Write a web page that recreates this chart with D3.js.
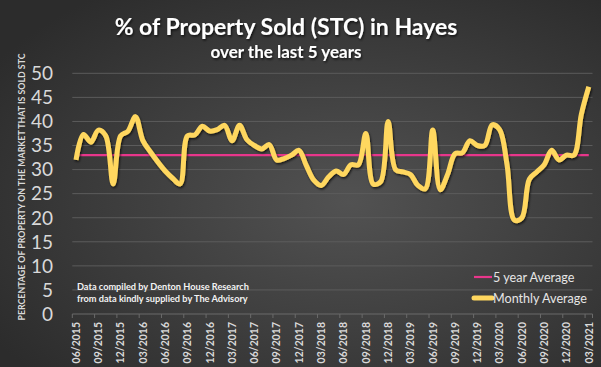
<!DOCTYPE html>
<html>
<head>
<meta charset="utf-8">
<script src="https://cdn.jsdelivr.net/npm/d3@7"></script>
<style>
  html, body { margin: 0; padding: 0; background: #333; }
  svg { display: block; font-family: Lato, "Open Sans", sans-serif; }
</style>
</head>
<body>
<svg width="601" height="367"></svg>
<script>
// monthly % sold STC, 06/2015 .. 03/2021
const monthly = [
  32, 37.3, 35.7, 38.2, 37, 27, 37, 38, 41, 36,
  33.7, 31.6, 29.7, 28.2, 27, 37, 37.2, 39, 38, 38.3,
  39.2, 36, 39.2, 36.2, 35, 34.3, 35.2, 32, 32.3, 33,
  34, 30.8, 27.8, 26.7, 28.5, 29.7, 29, 31, 31, 37.5,
  27, 27.5, 40, 30, 29.5, 29, 26.7, 26, 38.2, 25.8,
  29, 33.3, 33.5, 36, 35, 35, 39.3, 38.3, 31, 19.5,
  20, 28, 29.5, 31, 34, 32, 33, 33, 41.5, 47.2
];
const fiveYearAvg = 33;
const yTicks = [0, 5, 10, 15, 20, 25, 30, 35, 40, 45, 50];

const months = d3.timeMonth.range(new Date(2015, 5, 1), new Date(2021, 3, 1))
  .map(d3.timeFormat('%m/%Y'));

const svg = d3.select('svg');
const width = 601, height = 367;

// background
let defs = svg.append('defs');
let bg = defs.append('radialGradient')
  .attr('id', 'bg').attr('cx', '58%').attr('cy', '55%').attr('r', '70%');
bg.append('stop').attr('offset', '0%').attr('stop-color', '#525252');
bg.append('stop').attr('offset', '100%').attr('stop-color', '#2c2c2c');

let shadow = defs.append('filter').attr('id', 'shadow')
  .attr('x', '-10%').attr('y', '-10%').attr('width', '120%').attr('height', '130%');
shadow.append('feDropShadow').attr('dx', 1).attr('dy', 1.5)
  .attr('stdDeviation', 1.2).attr('flood-color', '#000').attr('flood-opacity', 0.7);

svg.append('rect').attr('width', width).attr('height', height).attr('fill', 'url(#bg)');

let x = d3.scaleBand().domain(months).range([72.3, 592.5]).padding(0);
let y = d3.scaleLinear().domain([0, 50]).range([314, 73.3]);
let cx = d => x(d) + x.bandwidth() / 2;

// gridlines
svg.append('g')
  .selectAll('line')
  .data(yTicks)
  .enter()
    .append('line')
    .attr('x1', 72.3).attr('x2', 592.5)
    .attr('y1', d => y(d)).attr('y2', d => y(d))
    .attr('stroke', d => d === 0 ? '#6a6a6a' : '#5c5c5c')
    .attr('stroke-width', 1);

// y labels
svg.append('g')
  .selectAll('text')
  .data(yTicks)
  .enter()
    .append('text')
    .attr('x', 53).attr('y', d => y(d))
    .attr('dy', '0.36em')
    .attr('text-anchor', 'end')
    .attr('fill', '#d9d9d9')
    .attr('font-size', 19)
    .text(d => d);

// x tick marks every 3 months at category boundaries
let every3 = months.filter((m, i) => i % 3 === 0);
svg.append('g')
  .selectAll('line')
  .data(every3.concat(['end']))
  .enter()
    .append('line')
    .attr('x1', d => d === 'end' ? 592.5 : x(d))
    .attr('x2', d => d === 'end' ? 592.5 : x(d))
    .attr('y1', 314).attr('y2', 318)
    .attr('stroke', '#6a6a6a');

// x labels
svg.append('g')
  .selectAll('text')
  .data(every3)
  .enter()
    .append('text')
    .attr('transform', d => `translate(${cx(d)},322) rotate(-90)`)
    .attr('dy', '0.36em')
    .attr('text-anchor', 'end')
    .attr('fill', '#d9d9d9')
    .attr('font-size', 10.5)
    .attr('font-weight', 'bold')
    .text(d => d);

// y axis title
svg.append('text')
  .attr('transform', 'translate(22,187) rotate(-90)')
  .attr('text-anchor', 'middle')
  .attr('dy', '0.36em')
  .attr('fill', '#d9d9d9')
  .attr('font-size', 8.8)
  .attr('font-weight', 'bold')
  .text('PERCENTAGE OF PROPERTY ON THE MARKET THAT IS SOLD STC');

// 5 year average
let avgLine = d3.line().x(d => cx(d)).y(() => y(fiveYearAvg));
svg.append('path')
  .datum(months)
  .attr('d', avgLine)
  .attr('fill', 'none')
  .attr('stroke', '#e8368b')
  .attr('stroke-width', 2.2);

// monthly line
let line = d3.line()
  .x((d, i) => cx(months[i]))
  .y(d => y(d))
  .curve(d3.curveCatmullRom);

svg.append('path')
  .datum(monthly)
  .attr('d', line)
  .attr('fill', 'none')
  .attr('stroke', '#ffd75f')
  .attr('stroke-width', 5)
  .attr('stroke-linejoin', 'round')
  .attr('filter', 'url(#shadow)');

// legend
let legend = svg.append('g');
legend.append('line')
  .attr('x1', 474).attr('x2', 492).attr('y1', 277).attr('y2', 277)
  .attr('stroke', '#e8368b').attr('stroke-width', 2.2);
legend.append('text')
  .attr('x', 493).attr('y', 277).attr('dy', '0.36em')
  .attr('fill', '#e6e6e6').attr('font-size', 12.6)
  .text('5 year Average');
legend.append('line')
  .attr('x1', 474).attr('x2', 492).attr('y1', 298).attr('y2', 298)
  .attr('stroke', '#ffd75f').attr('stroke-width', 5)
  .attr('stroke-linecap', 'round');
legend.append('text')
  .attr('x', 493).attr('y', 298).attr('dy', '0.36em')
  .attr('fill', '#e6e6e6').attr('font-size', 12.6)
  .text('Monthly Average');

// source note
svg.append('text')
  .attr('x', 77).attr('y', 287).attr('dy', '0.36em')
  .attr('fill', '#f2f2f2').attr('font-size', 9.2).attr('font-weight', 'bold')
  .text('Data compiled by Denton House Research');
svg.append('text')
  .attr('x', 77).attr('y', 299).attr('dy', '0.36em')
  .attr('fill', '#f2f2f2').attr('font-size', 9.2).attr('font-weight', 'bold')
  .text('from data kindly supplied by The Advisory');

// titles
svg.append('text')
  .attr('x', 286).attr('y', 35)
  .attr('text-anchor', 'middle')
  .attr('fill', '#ffffff')
  .attr('font-size', 23).attr('font-weight', 'bold')
  .attr('filter', 'url(#shadow)')
  .text('% of Property Sold (STC) in Hayes');
svg.append('text')
  .attr('x', 286).attr('y', 58)
  .attr('text-anchor', 'middle')
  .attr('fill', '#ffffff')
  .attr('font-size', 17).attr('font-weight', 'bold')
  .attr('filter', 'url(#shadow)')
  .text('over the last 5 years');
</script>
</body>
</html>
